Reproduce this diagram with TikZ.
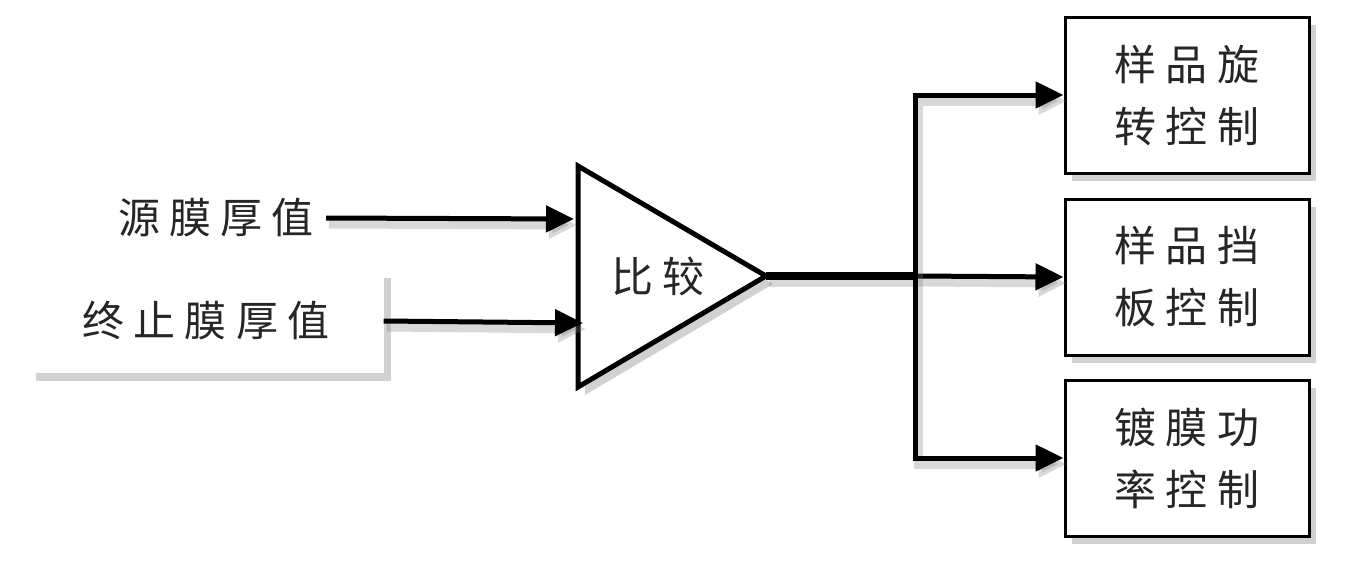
\documentclass[tikz,border=0pt]{standalone}
\usepackage{fontspec}
\newfontfamily\cjk[LetterSpace=22]{Noto Sans CJK SC}
\usetikzlibrary{arrows.meta,shadows}
\begin{document}
\begin{tikzpicture}[x=1pt,y=-1pt,
  lbl/.style={font=\cjk\fontsize{42}{62}\selectfont, text=black!85, inner sep=0pt},
  softshadow/.style={drop shadow={shadow xshift=7pt, shadow yshift=-8pt, opacity=0.4, fill=black!45}},
  ctrlbox/.style={draw, line width=3pt, fill=white, minimum width=244pt, minimum height=156pt,
     align=center, lbl, softshadow},
  lineshadow/.style={preaction={draw=black!50, opacity=0.3, line width=9pt,
     transform canvas={shift={(3pt,-6pt)}}}},
  arr/.style={line width=5pt, line join=miter, -{Triangle[length=28pt,width=26pt]}},
]
\useasboundingbox[fill=white] (0,0) rectangle (1347,568);

% inputs
\node[lbl] (src) at (216,218) {源膜厚值};
\node[lbl, fill=white, minimum width=355pt, minimum height=103pt, softshadow] (term) at (206,321) {终止膜厚值};

% comparator triangle
\coordinate (tTop) at (578,166);
\coordinate (tBot) at (578,387);
\coordinate (apex) at (766,276);
\draw[line width=5pt, line join=miter, fill=white, softshadow] (tTop) -- (apex) -- (tBot) -- cycle;
\node[lbl] (cmp) at (658,276) {比较};
\coordinate (in1) at (574,219);
\coordinate (in2) at (583,323);

% output boxes
\node[ctrlbox] (b1) at (1187,95) {样品旋\\转控制};
\node[ctrlbox] (b2) at (1187,277) {样品挡\\板控制};
\node[ctrlbox] (b3) at (1187,458) {镀膜功\\率控制};

% junction
\coordinate (j) at (915,276);

% connectors
\draw[arr, lineshadow] (src.east) ++(12,0) coordinate (s1) -- (in1);
\draw[arr, lineshadow] (term.east) -- (in2);
\draw[line width=8pt, lineshadow] (apex) -- (j);
\draw[arr, lineshadow] (j) -- (b2.west);
\draw[arr, lineshadow] (j) |- (b1.west);
\draw[arr, lineshadow] (j) |- (b3.west);
\end{tikzpicture}
\end{document}
